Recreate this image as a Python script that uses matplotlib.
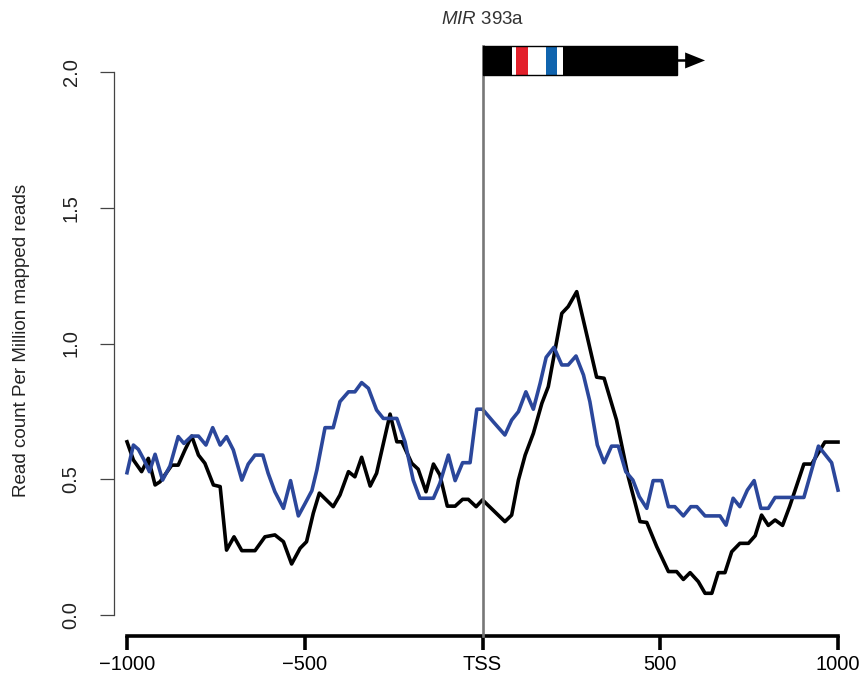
import matplotlib
matplotlib.use("Agg")
import matplotlib.pyplot as plt
from matplotlib.patches import Rectangle, Polygon

plt.rcParams["font.family"] = ["Liberation Sans", "DejaVu Sans"]
plt.rcParams["mathtext.fontset"] = "custom"
plt.rcParams["mathtext.rm"] = "Liberation Sans"
plt.rcParams["mathtext.it"] = "Liberation Sans:italic"

# ---------------------------------------------------------------------------
# Data: read density around the MIR393a TSS (bp, RPM)
# ---------------------------------------------------------------------------
black_pos = [-1000, -982, -959, -940, -921, -907, -874, -856, -837, -818,
             -799, -781, -757, -738, -720, -699, -677, -640, -612, -584,
             -560, -537, -513, -495, -476, -459, -420, -401, -377, -359,
             -340, -316, -298, -260, -241, -227, -199, -181, -159, -138,
             -120, -99, -77, -56, -40, -18, 0, 63, 82, 101,
             120, 143, 167, 185, 223, 241, 265, 321, 342, 377,
             410, 443, 462, 490, 523, 546, 565, 584, 607, 626,
             645, 663, 682, 701, 724, 748, 767, 785, 804, 823,
             844, 864, 904, 926, 963, 1000]
black_val = [0.638, 0.571, 0.528, 0.577, 0.479, 0.491, 0.552, 0.552, 0.608, 0.659,
             0.589, 0.559, 0.479, 0.473, 0.239, 0.288, 0.237, 0.237, 0.288, 0.295,
             0.270, 0.188, 0.246, 0.270, 0.375, 0.449, 0.399, 0.442, 0.528, 0.509,
             0.581, 0.475, 0.522, 0.740, 0.638, 0.638, 0.559, 0.537, 0.454, 0.556,
             0.516, 0.401, 0.401, 0.426, 0.426, 0.399, 0.424, 0.344, 0.368, 0.497,
             0.589, 0.669, 0.780, 0.841, 1.111, 1.136, 1.191, 0.876, 0.872, 0.718,
             0.509, 0.344, 0.341, 0.252, 0.160, 0.160, 0.131, 0.156, 0.123, 0.080,
             0.080, 0.156, 0.156, 0.233, 0.264, 0.264, 0.292, 0.368, 0.330, 0.350,
             0.330, 0.400, 0.556, 0.556, 0.637, 0.637]

blue_pos = [-1000, -982, -968, -952, -937, -921, -900, -879, -856, -840,
            -818, -799, -778, -759, -738, -720, -701, -677, -659, -640,
            -618, -603, -584, -560, -540, -518, -499, -480, -466, -443,
            -420, -401, -377, -359, -340, -321, -298, -279, -241, -218,
            -195, -176, -138, -120, -96, -77, -56, -35, -16, 0,
            30, 63, 82, 101, 122, 143, 162, 179, 201, 223,
            241, 263, 284, 302, 323, 342, 363, 382, 403, 423,
            441, 462, 480, 504, 523, 541, 565, 586, 603, 626,
            668, 685, 705, 724, 745, 764, 783, 804, 823, 904,
            945, 982, 1000]
blue_val = [0.524, 0.626, 0.610, 0.571, 0.528, 0.592, 0.497, 0.549, 0.657, 0.632,
            0.659, 0.659, 0.626, 0.690, 0.626, 0.657, 0.608, 0.497, 0.556, 0.589,
            0.589, 0.522, 0.454, 0.393, 0.495, 0.365, 0.411, 0.458, 0.534, 0.690,
            0.690, 0.786, 0.822, 0.822, 0.856, 0.835, 0.755, 0.724, 0.724, 0.638,
            0.497, 0.430, 0.430, 0.485, 0.589, 0.495, 0.561, 0.561, 0.758, 0.758,
            0.712, 0.663, 0.718, 0.749, 0.822, 0.758, 0.853, 0.949, 0.986, 0.921,
            0.921, 0.954, 0.884, 0.786, 0.626, 0.561, 0.622, 0.622, 0.528, 0.497,
            0.436, 0.393, 0.495, 0.495, 0.399, 0.399, 0.365, 0.399, 0.399, 0.365,
            0.365, 0.331, 0.430, 0.399, 0.460, 0.495, 0.393, 0.393, 0.433, 0.433,
            0.622, 0.561, 0.460]

x_ticks = [-1000, -500, 0, 500, 1000]
x_ticklabels = ["\u22121000", "\u2212500", "TSS", "500", "1000"]
y_ticks = [0.0, 0.5, 1.0, 1.5, 2.0]

# gene model above the plot (bp)
gene_start, gene_end = 0, 547
spacer = (83, 226)
red_box = (94, 128)
blue_box = (179, 210)

# ---------------------------------------------------------------------------
# Figure
# ---------------------------------------------------------------------------
W, H = 863, 682
fig = plt.figure(figsize=(W / 100, H / 100), dpi=100)
ax = fig.add_axes([114 / W, 46 / H, (W - 114) / W, 586 / H])
ax.set_xlim(-1036.6, 1070.3)
ax.set_ylim(-0.0773, 2.081)

ax.plot(black_pos, black_val, color="black", lw=2.6, solid_joinstyle="round", zorder=3)
ax.plot(blue_pos, blue_val, color="#2b479b", lw=2.6, solid_joinstyle="round", zorder=4)

# TSS marker line running up to the gene model
ax.plot([0, 0], [-0.0773, 2.096], color="#777777", lw=1.9, clip_on=False, zorder=5)

# gene model
box_lo, box_hi = 1.989, 2.096
box_h = box_hi - box_lo
ax.add_patch(Rectangle((gene_start, box_lo), gene_end - gene_start, box_h,
                       facecolor="black", edgecolor="none", clip_on=False, zorder=6))
ax.add_patch(Rectangle((spacer[0], box_lo), spacer[1] - spacer[0], box_h,
                       facecolor="white", edgecolor="none", clip_on=False, zorder=7))
ax.add_patch(Rectangle((red_box[0], box_lo), red_box[1] - red_box[0], box_h,
                       facecolor="#e3202b", edgecolor="none", clip_on=False, zorder=8))
ax.add_patch(Rectangle((blue_box[0], box_lo), blue_box[1] - blue_box[0], box_h,
                       facecolor="#1064ae", edgecolor="none", clip_on=False, zorder=8))
ax.add_patch(Rectangle((gene_start, box_lo), gene_end - gene_start, box_h,
                       facecolor="none", edgecolor="black", lw=1.0, clip_on=False, zorder=9))
ax.plot([gene_end, 575], [2.0425, 2.0425], color="black", lw=1.8, clip_on=False, zorder=6)
ax.add_patch(Polygon([[570, 2.072], [570, 2.013], [626, 2.0425]], closed=True,
                     facecolor="black", edgecolor="none", clip_on=False, zorder=6))
ax.text(0, 2.195, r"$\mathit{MIR}$ 393a", ha="center", va="center",
        fontsize=13.5, color="#333333", clip_on=False)

# axes in base-R style
for side in ("top", "right"):
    ax.spines[side].set_visible(False)
ax.spines["bottom"].set_bounds(-1000, 1000)
ax.spines["bottom"].set_linewidth(2.6)
ax.spines["bottom"].set_capstyle("projecting")
ax.spines["left"].set_bounds(0, 2)
ax.spines["left"].set_linewidth(0.9)
ax.spines["left"].set_color("#444444")

ax.set_xticks(x_ticks)
ax.set_xticklabels(x_ticklabels, fontsize=14.5)
ax.tick_params(axis="x", length=10, width=2.6, pad=4, color="black")
ax.set_yticks(y_ticks)
ax.set_yticklabels([f"{v:.1f}" for v in y_ticks], rotation=90, va="center",
                   fontsize=14.5, color="#222222")
ax.tick_params(axis="y", length=10, width=0.9, pad=14, color="#444444")

fig.text(22 / W, (H - 340) / H, "Read count Per Million mapped reads", rotation=90,
         ha="center", va="center", fontsize=13.5, color="#222222")

fig.savefig("out.png", dpi=100)
